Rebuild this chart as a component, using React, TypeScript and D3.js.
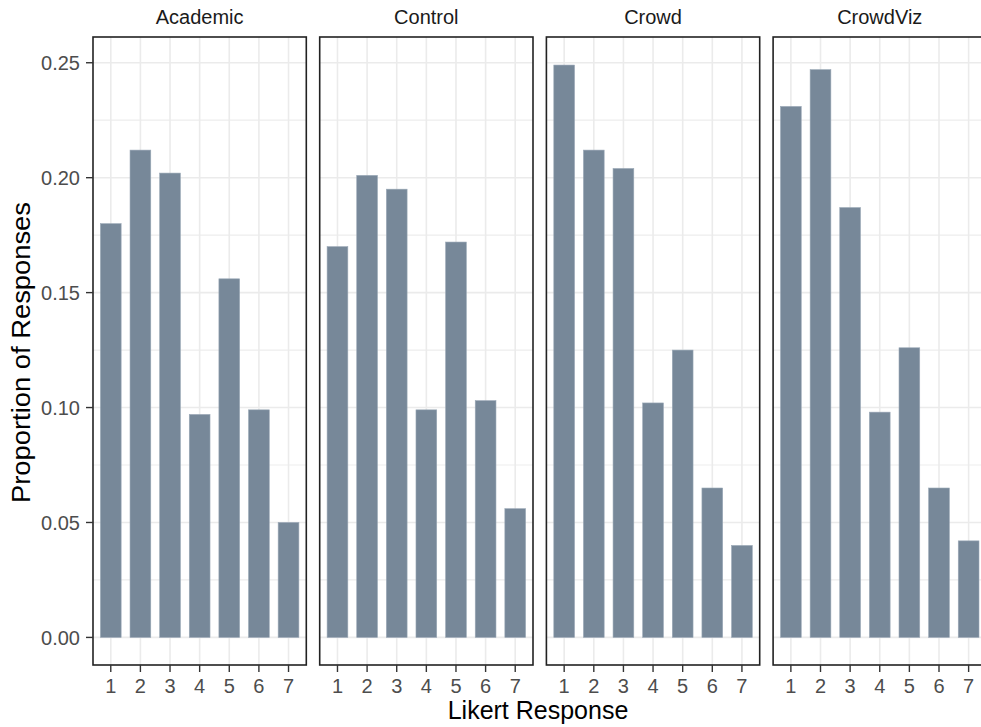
import React from "react";
import * as d3 from "d3";

const groups = ["Academic", "Control", "Crowd", "CrowdViz"];
const likert = [1, 2, 3, 4, 5, 6, 7];
const academic = [0.180, 0.212, 0.202, 0.097, 0.156, 0.099, 0.050];
const control = [0.170, 0.201, 0.195, 0.099, 0.172, 0.103, 0.056];
const crowd = [0.249, 0.212, 0.204, 0.102, 0.125, 0.065, 0.040];
const crowdViz = [0.231, 0.247, 0.187, 0.098, 0.126, 0.065, 0.042];
const seriesValues = [academic, control, crowd, crowdViz];
const yTicks = [0, 0.05, 0.1, 0.15, 0.2, 0.25];
const yMinor = [0.025, 0.075, 0.125, 0.175, 0.225];

const W = 981;
const H = 727;
const panelLeft0 = 93;
const panelW = 213.3;
const panelStep = 226.7;
const panelTop = 37;
const panelBottom = 665;
const FONT = "'Liberation Sans', Arial, Helvetica, sans-serif";
const BAR = "#778899";

export default function App() {
  const y = d3.scaleLinear().domain([-0.012, 0.2612]).range([panelBottom, panelTop]);
  const fmt = d3.format(".2f");

  return (
    <svg
      width={W}
      height={H}
      viewBox={`0 0 ${W} ${H}`}
      style={{ position: "absolute", left: 0, top: 0, background: "#fff" }}
      fontFamily={FONT}
    >
      <rect x={0} y={0} width={W} height={H} fill="#fff" />
      {groups.map((g, gi) => {
        const x0 = panelLeft0 + gi * panelStep;
        const x = d3.scaleLinear().domain([0.4, 7.6]).range([x0, x0 + panelW]);
        const vals = seriesValues[gi];
        const bw = x(0.7) - x(0);
        return (
          <g key={g}>
            <text
              x={x0 + panelW / 2}
              y={24}
              textAnchor="middle"
              fontSize={20}
              fill="#1a1a1a"
            >
              {g}
            </text>
            {yMinor.map((t) => (
              <line key={"mn" + t} x1={x0} x2={x0 + panelW} y1={y(t)} y2={y(t)} stroke="#ededed" strokeWidth={1.2} />
            ))}
            {yTicks.map((t) => (
              <line key={"mj" + t} x1={x0} x2={x0 + panelW} y1={y(t)} y2={y(t)} stroke="#ebebeb" strokeWidth={1.6} />
            ))}
            {likert.map((k) => (
              <line key={"vx" + k} x1={x(k)} x2={x(k)} y1={panelTop} y2={panelBottom} stroke="#ebebeb" strokeWidth={1.6} />
            ))}
            {likert.map((k, i) => (
              <rect
                key={"b" + k}
                x={x(k) - bw / 2}
                y={y(vals[i])}
                width={bw}
                height={y(0) - y(vals[i])}
                fill={BAR}
                stroke="#9aa8b6"
                strokeWidth={0.6}
              />
            ))}
            <rect x={x0} y={panelTop} width={panelW} height={panelBottom - panelTop} fill="none" stroke="#222" strokeWidth={1.6} />
            {likert.map((k) => (
              <g key={"xt" + k}>
                <line x1={x(k)} x2={x(k)} y1={panelBottom} y2={panelBottom + 7} stroke="#333" strokeWidth={1.4} />
                <text x={x(k)} y={692.5} textAnchor="middle" fontSize={20} fill="#4d4d4d">
                  {k}
                </text>
              </g>
            ))}
          </g>
        );
      })}
      {yTicks.map((t) => (
        <g key={"yt" + t}>
          <line x1={panelLeft0 - 7} x2={panelLeft0} y1={y(t)} y2={y(t)} stroke="#333" strokeWidth={1.4} />
          <text x={80} y={y(t)} dy="0.36em" textAnchor="end" fontSize={20} fill="#4d4d4d">
            {fmt(t)}
          </text>
        </g>
      ))}
      <text x={538} y={719} textAnchor="middle" fontSize={25} fill="#000">
        Likert Response
      </text>
      <text
        transform={`translate(30, 352.5) rotate(-90)`}
        textAnchor="middle"
        fontSize={25}
        fill="#000"
        textLength={301}
        lengthAdjust="spacingAndGlyphs"
      >
        Proportion of Responses
      </text>
    </svg>
  );
}
